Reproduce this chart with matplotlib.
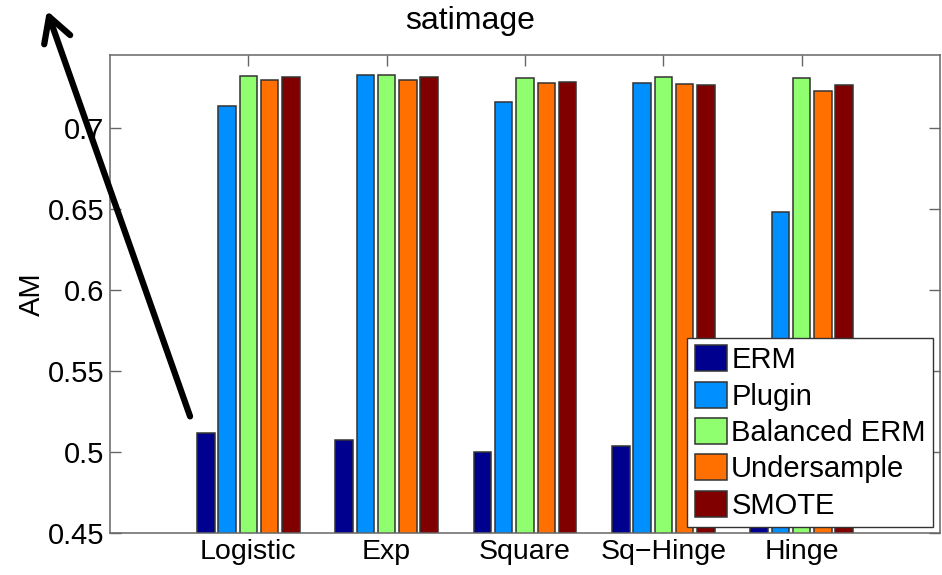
import numpy as np
import matplotlib
matplotlib.use('Agg')
import matplotlib.pyplot as plt
from matplotlib.patches import FancyArrowPatch

plt.rcParams['font.family'] = ['Liberation Sans', 'DejaVu Sans']

# Données
categories = ['Logistic', 'Exp', 'Square', 'Sq\u2212Hinge', 'Hinge']
methods = ['ERM', 'Plugin', 'Balanced ERM', 'Undersample', 'SMOTE']
erm = [0.5115, 0.5073, 0.4998, 0.5038, 0.505]
plugin = [0.7133, 0.7324, 0.7155, 0.7277, 0.6481]
balanced_erm = [0.7318, 0.7322, 0.7307, 0.7313, 0.7307]
undersample = [0.7291, 0.7291, 0.7274, 0.7268, 0.7225]
smote = [0.7311, 0.7311, 0.7281, 0.7264, 0.7264]
colors = ['#00008F', '#008FFF', '#8FFF70', '#FF7000', '#800000']

series = [erm, plugin, balanced_erm, undersample, smote]

fig = plt.figure(figsize=(9.42, 5.75), dpi=100)
ax = fig.add_axes([110/942, 1 - 533/575, (940 - 110)/942, (533 - 55)/575])

x = np.arange(1, len(categories) + 1)
pitch = 0.154
width = 0.127
for i, (vals, name, col) in enumerate(zip(series, methods, colors)):
    ax.bar(x + (i - 2) * pitch, vals, width, color=col, edgecolor='#333333',
           linewidth=1.1, label=name, zorder=2)

ax.set_xlim(0, 6)
ax.set_ylim(0.45, 0.7447)
ax.set_xticks(x)
ax.set_xticklabels(categories, fontsize=20.5)
yt = [0.45, 0.5, 0.55, 0.6, 0.65, 0.7]
ax.set_yticks(yt)
ax.set_yticklabels(['%g' % v for v in yt], fontsize=21)
ax.tick_params(direction='in', length=8, width=1, color='#666666',
               top=True, right=True, pad=4)
for s in ax.spines.values():
    s.set_color('#666666')
    s.set_linewidth(1.1)
ax.set_ylabel('AM', fontsize=21)
ax.yaxis.set_label_coords(-0.077, 0.5)

fig.text(470/942, 1 - 21/575, 'satimage', fontsize=23, ha='center', va='center')

leg = ax.legend(loc='lower right', bbox_to_anchor=(933/942, 48/575),
                bbox_transform=fig.transFigure, fontsize=21, frameon=True,
                fancybox=False, edgecolor='#333333', framealpha=1,
                handlelength=1.1, handleheight=1.0, labelspacing=0.25,
                handletextpad=0.15, borderpad=0.25, borderaxespad=0)
leg.get_frame().set_linewidth(1.0)
leg.set_zorder(5)

# Flèche noire
arrow = FancyArrowPatch((191/942, 1 - 419/575), (46/942, 1 - 8/575),
                        transform=fig.transFigure, arrowstyle='->,head_length=8,head_width=4.5',
                        color='black', linewidth=4.5, mutation_scale=2.2, zorder=10)
fig.add_artist(arrow)

fig.savefig('out.png', dpi=100)
